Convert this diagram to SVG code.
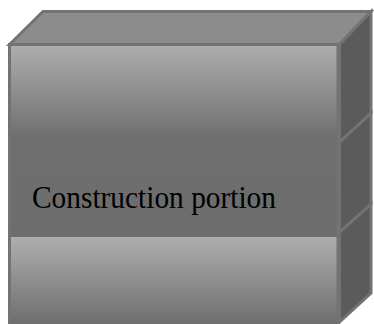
<svg xmlns="http://www.w3.org/2000/svg" width="374" height="324" viewBox="0 0 374 324">
<defs>
<linearGradient id="g1" x1="0" y1="0" x2="0" y2="1">
<stop offset="0" stop-color="#aeaeae"/>
<stop offset="1" stop-color="#6c6c6c"/>
</linearGradient>
<linearGradient id="g2" x1="0" y1="0" x2="0" y2="1">
<stop offset="0" stop-color="#6e6e6e"/>
<stop offset="1" stop-color="#6d6d6d"/>
</linearGradient>
<style>
.st{stroke:#737373;stroke-width:3;stroke-linejoin:miter}
.edge{stroke:#737373;stroke-width:3;fill:none}
.top{fill:#8c8c8c}
.side{fill:#5b5b5b}
.lbl{font-family:"Liberation Serif","DejaVu Serif",serif;font-size:31px;fill:#000}
</style>
</defs>
<rect width="374" height="324" fill="#ffffff"/>
<g id="box-bottom">
<rect x="9.5" y="237" width="330" height="90" fill="url(#g1)"/>
<polygon class="st side" points="339.5,232 371,204 371,293 339.5,322"/>
<line class="edge" x1="9.5" y1="237" x2="9.5" y2="326"/>
<line class="edge" x1="338" y1="237" x2="338" y2="326"/>
</g>
<g id="box-middle">
<rect x="9.5" y="142" width="330" height="95" fill="url(#g2)"/>
<polygon class="st side" points="339.5,142 371,113 371,204 339.5,232"/>
<line class="edge" x1="9.5" y1="142" x2="9.5" y2="237"/>
<line class="edge" x1="338" y1="142" x2="338" y2="237"/>
<text class="lbl" x="32" y="208" textLength="244" lengthAdjust="spacingAndGlyphs">Construction portion</text>
</g>
<g id="box-top">
<polygon class="st top" points="9.5,44.5 43,11.5 371,11.5 339.5,44.5"/>
<rect x="9.5" y="44.5" width="330" height="97.5" fill="url(#g1)"/>
<polyline class="edge" points="9.5,142 9.5,44.5 338,44.5 338,142"/>
<polygon class="st side" points="339.5,44.5 371,11.5 371,113 339.5,142"/>
</g>
<g id="connectors"/>
</svg>
